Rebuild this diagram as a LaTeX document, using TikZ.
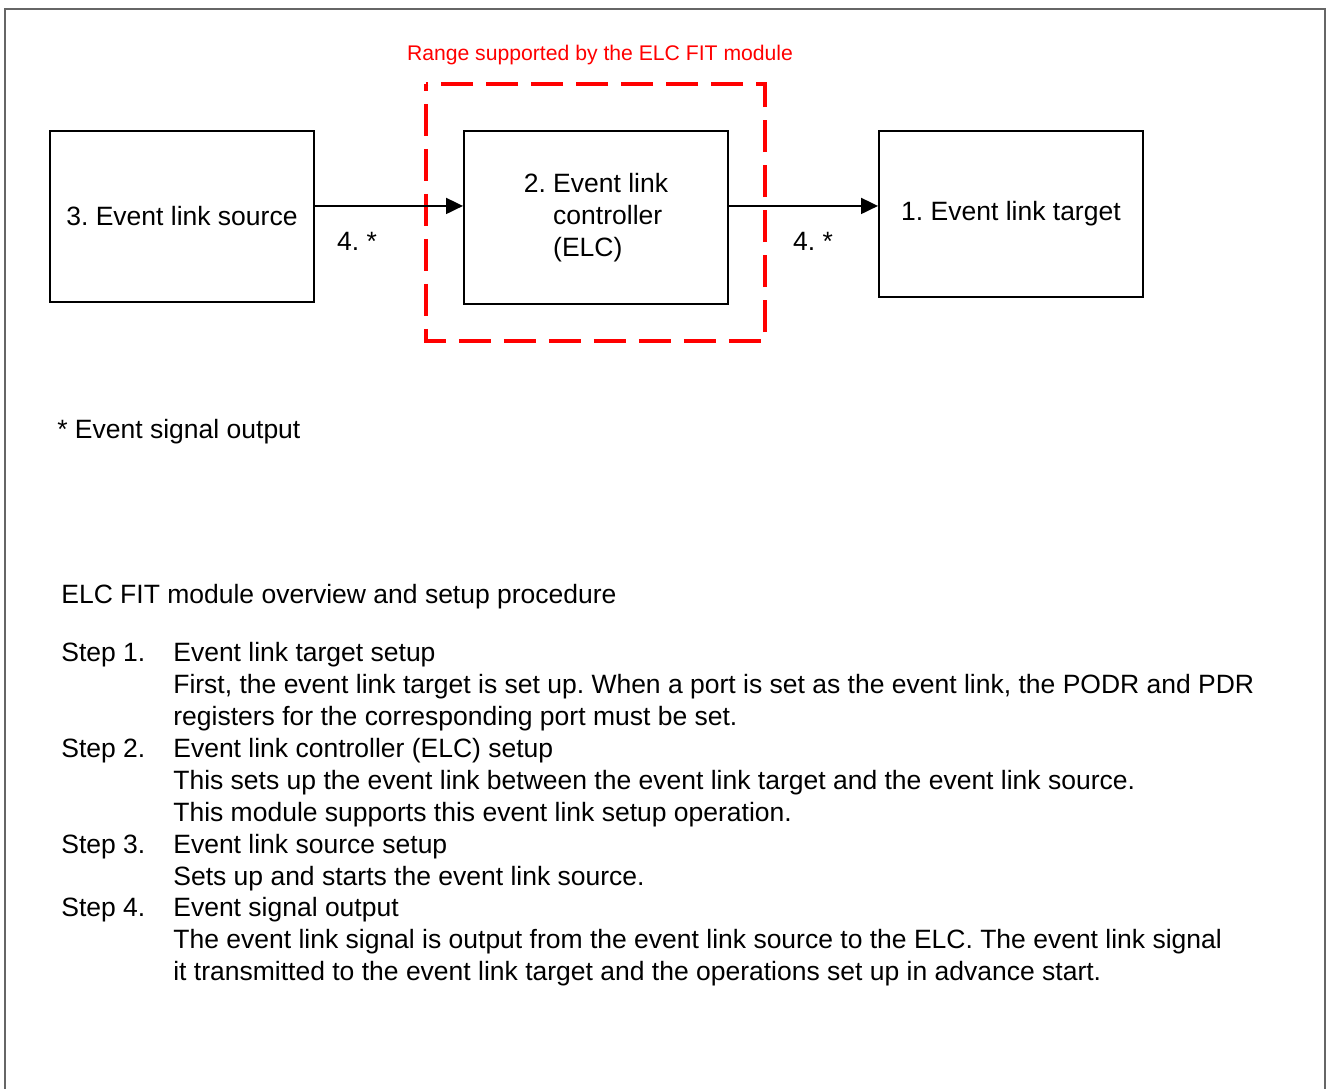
\documentclass[tikz,border=0pt]{standalone}
\usepackage{fontspec}
\setmainfont{Liberation Sans}
\usetikzlibrary{arrows.meta}
\frenchspacing

\begin{document}
\begin{tikzpicture}[
			x=0.02cm, y=-0.02cm,
			every node/.style={font=\fontsize{15.08}{18.2}\selectfont, inner sep=0pt},
			blockbox/.style={draw, line width=1.1pt, minimum width=5.28cm, anchor=north west, align=center},
			rangebox/.style={draw=red, line width=2pt, dash pattern=on 0.64cm off 0.26cm, dash phase=0.5cm},
			arrowline/.style={line width=1.1pt, -{Triangle[length=0.34cm, width=0.32cm]}},
			line cap=butt,
			line join=miter
			]
			\useasboundingbox (0,0) rectangle (1326,1089);
			\draw[black!60, line width=0.04cm] (5,1100) -- (5,9) -- (1325,9) -- (1325,1100);
			
			% blocks
			\node[blockbox, minimum height=3.42cm] (src) at (49,130) {3. Event link source};
			\node[blockbox, minimum height=3.46cm, align=left] (elc) at (463,130) {2. Event link\\\phantom{2.\ }controller\\\phantom{2.\ }(ELC)};
			\node[blockbox, minimum height=3.32cm] (tgt) at (878,130) {1. Event link target};
			
			% range of the module
			\draw[rangebox] (426,84) rectangle (765,341);
			\node[text=red, font=\fontsize{12.05}{14}\selectfont] (range) at (600,55) {Range supported by the ELC FIT module};
			
			% event signal
			\draw[arrowline] ([yshift=0.21cm]src.east) -- ([yshift=0.21cm]src.east -| elc.west);
			\draw[arrowline] ([yshift=0.23cm]elc.east) -- ([yshift=0.23cm]elc.east -| tgt.west);
			\node (sig1) at (357,241) {4. *};
			\node (sig2) at (813,241) {4. *};
			
			\node[anchor=base west] (note) at (57,438) {* Event signal output};
			
			% procedure (base of a block = its last line)
			\node[anchor=base west] (title) at (61,603) {ELC FIT module overview and setup procedure};
			
			\node[anchor=base west] (step1) at (61,661) {Step 1.};
			\node[anchor=base west, align=left] (text1) at (173,725) {Event link target setup\\First, the event link target is set up. When a port is set as the event link, the PODR and PDR\\registers for the corresponding port must be set.};
			
			\node[anchor=base west] (step2) at (61,757) {Step 2.};
			\node[anchor=base west, align=left] (text2) at (173,821) {Event link controller (ELC) setup\\This sets up the event link between the event link target and the event link source.\\This module supports this event link setup operation.};
			
			\node[anchor=base west] (step3) at (61,853) {Step 3.};
			\node[anchor=base west, align=left] (text3) at (173,885) {Event link source setup\\Sets up and starts the event link source.};
			
			\node[anchor=base west] (step4) at (61,916) {Step 4.};
			\node[anchor=base west, align=left] (text4) at (173,980) {Event signal output\\The event link signal is output from the event link source to the ELC. The event link signal\\it transmitted to the event link target and the operations set up in advance start.};
		\end{tikzpicture}
\end{document}
